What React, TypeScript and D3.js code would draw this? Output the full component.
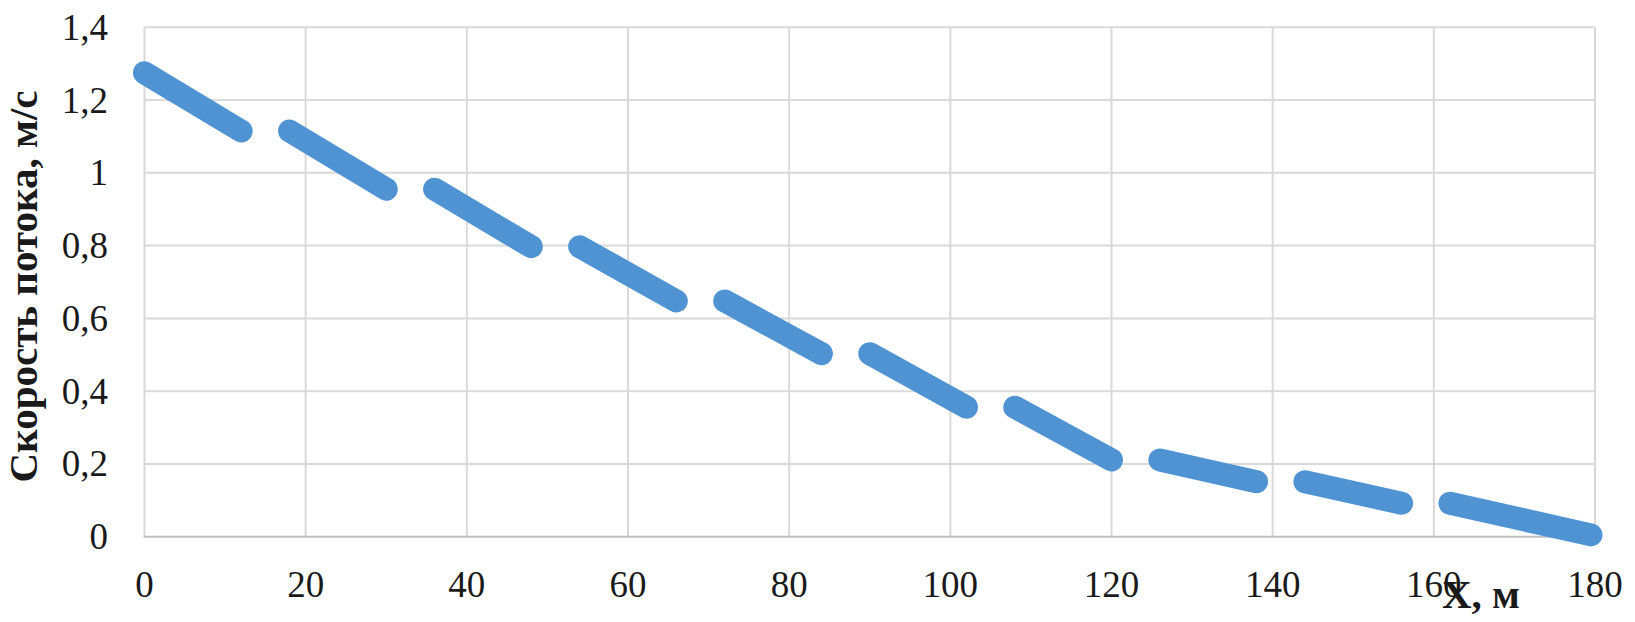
import React from "react";
import * as d3 from "d3";

// Dash segments of the series: [x start, x end] and [y start, y end] pairs
const segX: number[] = [0, 12, 18, 30, 36, 48, 54, 66, 72, 84, 90, 102, 108, 120, 126, 138, 144, 156, 162, 179.5];
const segY: number[] = [1.275, 1.115, 1.115, 0.955, 0.955, 0.797, 0.797, 0.648, 0.648, 0.503, 0.503, 0.356, 0.356, 0.211, 0.211, 0.151, 0.151, 0.092, 0.092, 0.005];

const xTicks: number[] = [0, 20, 40, 60, 80, 100, 120, 140, 160, 180];
const xTickLabels: string[] = ["0", "20", "40", "60", "80", "100", "120", "140", "160", "180"];
const yTicks: number[] = [0, 0.2, 0.4, 0.6, 0.8, 1, 1.2, 1.4];
const yTickLabels: string[] = ["0", "0,2", "0,4", "0,6", "0,8", "1", "1,2", "1,4"];

const yTitle = "Скорость потока, м/с";
const xTitle = "X, м";

const W = 1635;
const H = 622;

export default function App() {
  const x = d3.scaleLinear().domain([0, 180]).range([144.5, 1595]);
  const y = d3.scaleLinear().domain([0, 1.4]).range([536.7, 27.3]);

  const line = d3
    .line<[number, number]>()
    .x((d) => x(d[0]))
    .y((d) => y(d[1]));

  const segments: [number, number][][] = [];
  for (let i = 0; i + 1 < segX.length; i += 2) {
    segments.push([
      [segX[i], segY[i]],
      [segX[i + 1], segY[i + 1]],
    ]);
  }

  const font = "'Liberation Serif', 'Times New Roman', serif";

  return (
    <svg
      width={W}
      height={H}
      style={{ position: "absolute", left: 0, top: 0, background: "#fff" }}
    >
      <rect x={0} y={0} width={W} height={H} fill="#fff" />
      {yTicks.map((t) =>
        t === 0 ? null : (
          <line
            key={"gy" + t}
            x1={x(0)}
            x2={x(180)}
            y1={y(t)}
            y2={y(t)}
            stroke="#d9d9d9"
            strokeWidth={2}
          />
        )
      )}
      {xTicks.map((t) => (
        <line
          key={"gx" + t}
          x1={x(t)}
          x2={x(t)}
          y1={y(1.4)}
          y2={y(0)}
          stroke="#d9d9d9"
          strokeWidth={2}
        />
      ))}
      <line
        x1={x(0) - 1}
        x2={x(180) + 1}
        y1={y(0)}
        y2={y(0)}
        stroke="#bfbfbf"
        strokeWidth={2}
      />
      {segments.map((s, i) => (
        <path
          key={"s" + i}
          d={line(s) || ""}
          fill="none"
          stroke="#4f93d3"
          strokeWidth={23}
          strokeLinecap="round"
        />
      ))}
      {yTicks.map((t, i) => (
        <text
          key={"yl" + t}
          x={108}
          y={y(t) + 12.5}
          textAnchor="end"
          fontFamily={font}
          fontSize={37}
          fill="#1a1a1a"
        >
          {yTickLabels[i]}
        </text>
      ))}
      {xTicks.map((t, i) => (
        <text
          key={"xl" + t}
          x={x(t)}
          y={597}
          textAnchor="middle"
          fontFamily={font}
          fontSize={37}
          fill="#1a1a1a"
        >
          {xTickLabels[i]}
        </text>
      ))}
      <text
        transform={`translate(37, 286.5) rotate(-90)`}
        textAnchor="middle"
        fontFamily={font}
        fontSize={41}
        fontWeight="bold"
        fill="#1a1a1a"
      >
        {yTitle}
      </text>
      <text
        x={1442}
        y={608}
        textAnchor="start"
        fontFamily={font}
        fontSize={41}
        fontWeight="bold"
        fill="#1a1a1a"
      >
        {xTitle}
      </text>
    </svg>
  );
}
